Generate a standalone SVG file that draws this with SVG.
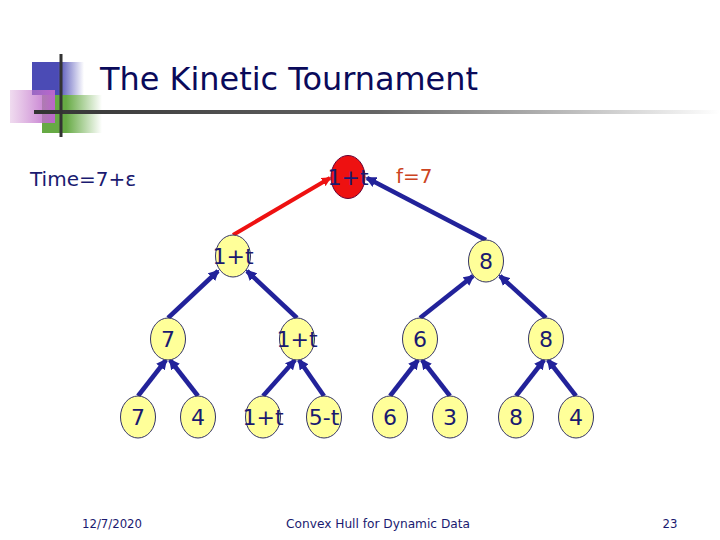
<svg xmlns="http://www.w3.org/2000/svg" width="720" height="540" viewBox="0 0 720 540">
<style>
.nd{fill:#FFFF99;stroke:#333366;stroke-width:1}
.rt{fill:#EE1111;stroke:#660033;stroke-width:1}
.lb{font-family:"DejaVu Sans",Verdana,sans-serif;font-size:22px;fill:#1A1A70;text-anchor:middle}
.ed{stroke:#22229A;stroke-width:4.5;fill:none;marker-end:url(#ah)}
.red{stroke:#EE1111;stroke-width:4;fill:none;marker-end:url(#ahr)}
.ft{font-family:"DejaVu Sans Condensed","DejaVu Sans",sans-serif;font-size:13px;fill:#1A1A70;text-anchor:middle}
</style>
<defs>
<marker id="ah" markerWidth="2.4" markerHeight="2.4" refX="2" refY="1.2" orient="auto" markerUnits="strokeWidth"><path d="M0,0 L2.4,1.2 L0,2.4 Z" fill="#22229A"/></marker>
<marker id="ahr" markerWidth="2.4" markerHeight="2.4" refX="2" refY="1.2" orient="auto" markerUnits="strokeWidth"><path d="M0,0 L2.4,1.2 L0,2.4 Z" fill="#EE1111"/></marker>
<linearGradient id="gb" x1="0" x2="1"><stop offset="0.5" stop-color="#4B4BB5"/><stop offset="1" stop-color="#4B4BB5" stop-opacity="0"/></linearGradient>
<linearGradient id="gp" x1="0" x2="1"><stop offset="0" stop-color="#CC88CC" stop-opacity="0.3"/><stop offset="1" stop-color="#BB66CC"/></linearGradient>
<linearGradient id="gg" x1="0" x2="1"><stop offset="0.4" stop-color="#66AA44"/><stop offset="1" stop-color="#66AA44" stop-opacity="0"/></linearGradient>
<linearGradient id="gl" x1="0" x2="1"><stop offset="0" stop-color="#333333"/><stop offset="0.5" stop-color="#666666"/><stop offset="1" stop-color="#FFFFFF"/></linearGradient>
</defs>
<rect width="720" height="540" fill="#FFFFFF"/>
<g id="deco">
<rect x="32" y="62" width="52" height="33" fill="url(#gb)"/>
<rect x="42" y="95" width="60" height="38" fill="url(#gg)"/>
<rect x="10" y="90" width="45" height="33" fill="url(#gp)"/>
<rect x="34" y="110" width="686" height="4" fill="url(#gl)"/>
<rect x="59.5" y="54" width="3" height="83" fill="#333333"/>
</g>
<text x="100" y="90" font-family="DejaVu Sans,Verdana,sans-serif" font-size="32" fill="#0A0A5A" textLength="378" lengthAdjust="spacingAndGlyphs">The Kinetic Tournament</text>
<text x="30" y="186" font-family="DejaVu Sans,Verdana,sans-serif" font-size="20" fill="#1A1A70">Time=7+ε</text>
<text x="396" y="183" font-family="DejaVu Sans,Verdana,sans-serif" font-size="20" fill="#CC4422">f=7</text>
<g id="connectors">
<line class="red" x1="233" y1="235" x2="330" y2="178"/>
<line class="ed" x1="486" y1="240" x2="367" y2="178"/>
<line class="ed" x1="168" y1="318" x2="218" y2="271"/>
<line class="ed" x1="297" y1="318" x2="247" y2="271"/>
<line class="ed" x1="420" y1="318" x2="473" y2="276"/>
<line class="ed" x1="546" y1="318" x2="500" y2="276"/>
<line class="ed" x1="138" y1="396" x2="166" y2="360"/>
<line class="ed" x1="198" y1="396" x2="170" y2="360"/>
<line class="ed" x1="263" y1="396" x2="295" y2="360"/>
<line class="ed" x1="324" y1="396" x2="299" y2="360"/>
<line class="ed" x1="390" y1="396" x2="418" y2="360"/>
<line class="ed" x1="450" y1="396" x2="422" y2="360"/>
<line class="ed" x1="516" y1="396" x2="544" y2="360"/>
<line class="ed" x1="576" y1="396" x2="548" y2="360"/>
</g>
<g id="n0"><ellipse class="rt" cx="348" cy="177" rx="17" ry="21.5"/><text class="lb" x="348" y="185">1+t</text></g>
<g id="n1"><ellipse class="nd" cx="233" cy="256" rx="17.5" ry="21"/><text class="lb" x="233" y="264">1+t</text></g>
<g id="n2"><ellipse class="nd" cx="486" cy="261" rx="17.5" ry="21"/><text class="lb" x="486" y="269">8</text></g>
<g id="n3"><ellipse class="nd" cx="168" cy="339" rx="17.5" ry="21"/><text class="lb" x="168" y="347">7</text></g>
<g id="n4"><ellipse class="nd" cx="297" cy="339" rx="17.5" ry="21"/><text class="lb" x="297" y="347">1+t</text></g>
<g id="n5"><ellipse class="nd" cx="420" cy="339" rx="17.5" ry="21"/><text class="lb" x="420" y="347">6</text></g>
<g id="n6"><ellipse class="nd" cx="546" cy="339" rx="17.5" ry="21"/><text class="lb" x="546" y="347">8</text></g>
<g id="n7"><ellipse class="nd" cx="138" cy="417" rx="17.5" ry="21"/><text class="lb" x="138" y="425">7</text></g>
<g id="n8"><ellipse class="nd" cx="198" cy="417" rx="17.5" ry="21"/><text class="lb" x="198" y="425">4</text></g>
<g id="n9"><ellipse class="nd" cx="263" cy="417" rx="17.5" ry="21"/><text class="lb" x="263" y="425">1+t</text></g>
<g id="n10"><ellipse class="nd" cx="324" cy="417" rx="17.5" ry="21"/><text class="lb" x="324" y="425">5-t</text></g>
<g id="n11"><ellipse class="nd" cx="390" cy="417" rx="17.5" ry="21"/><text class="lb" x="390" y="425">6</text></g>
<g id="n12"><ellipse class="nd" cx="450" cy="417" rx="17.5" ry="21"/><text class="lb" x="450" y="425">3</text></g>
<g id="n13"><ellipse class="nd" cx="516" cy="417" rx="17.5" ry="21"/><text class="lb" x="516" y="425">8</text></g>
<g id="n14"><ellipse class="nd" cx="576" cy="417" rx="17.5" ry="21"/><text class="lb" x="576" y="425">4</text></g>
<text class="ft" x="112" y="528">12/7/2020</text>
<text class="ft" x="378" y="528" textLength="184" lengthAdjust="spacingAndGlyphs">Convex Hull for Dynamic Data</text>
<text class="ft" x="670" y="528">23</text>
</svg>
